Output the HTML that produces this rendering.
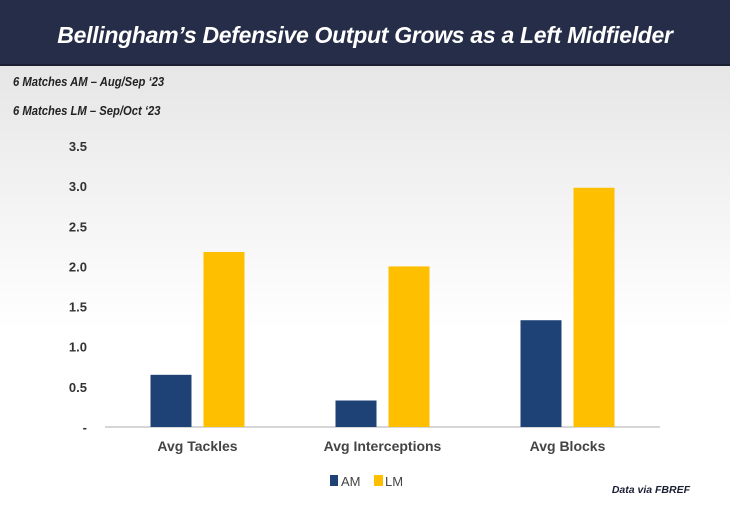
<!DOCTYPE html>
<html><head><meta charset="utf-8"><style>
body{margin:0;width:730px;height:517px;overflow:hidden;font-family:"Liberation Sans",sans-serif;}
#wrap{position:relative;width:730px;height:517px;background:linear-gradient(#e6e6e6 64px,#f3f3f3 200px,#fff 330px,#fff);}
#hdr{position:absolute;left:0;top:0;width:730px;height:64px;background:#262d48;border-bottom:2px solid #1a1f33;color:#fff;font-weight:bold;font-style:italic;font-size:23px;text-align:center;line-height:70px;letter-spacing:-0.3px}
.sub{position:absolute;left:13px;font-size:12.5px;font-weight:bold;font-style:italic;color:#222;transform:scaleX(0.9);transform-origin:left}
</style></head><body>
<div id="wrap">
<div id="hdr">Bellingham’s Defensive Output Grows as a Left Midfielder</div>
<div class="sub" style="top:75px">6 Matches AM – Aug/Sep ‘23</div>
<div class="sub" style="top:104px">6 Matches LM – Sep/Oct ‘23</div>
<svg id="svg" width="730" height="517" style="position:absolute;left:0;top:0"></svg>
</div>
<script>
const categories=["Avg Tackles","Avg Interceptions","Avg Blocks"];
const amValues=[0.65,0.33,1.33];
const lmValues=[2.18,2.0,2.98];
const tickValues=[0,0.5,1.0,1.5,2.0,2.5,3.0,3.5];
const tickLabels=["-","0.5","1.0","1.5","2.0","2.5","3.0","3.5"];
const NS="http://www.w3.org/2000/svg",svg=document.getElementById('svg');
const y0=427,y1=146,x0=105,x1=660;
const y=v=>y0-(v/3.5)*(y0-y1);
const band=(x1-x0)/categories.length;
const cx=i=>x0+band*(i+0.5);
function mk(t,a,txt){const e=document.createElementNS(NS,t);for(const k in a)e.setAttribute(k,a[k]);if(txt!=null)e.textContent=txt;svg.appendChild(e);return e;}
tickValues.forEach((v,i)=>{const e=mk('text',{x:87,y:y(v)+5,'text-anchor':'end','font-size':13,'font-weight':'bold',fill:'#333'},tickLabels[i]);

});
const bl=mk('line',{x1:x0,x2:x1,y1:y0,y2:y0,stroke:'#c8c8c8','stroke-width':1.5});


categories.forEach((c,i)=>{
const a=mk('rect',{x:cx(i)-47,y:y(amValues[i]),width:41,height:y0-y(amValues[i]),fill:'#1f4276'});


const l=mk('rect',{x:cx(i)+6,y:y(lmValues[i]),width:41,height:y0-y(lmValues[i]),fill:'#fdbf00'});


const t=mk('text',{x:cx(i),y:451,'text-anchor':'middle','font-size':14,'font-weight':'bold',fill:'#444'},c);


});
const g1=mk('rect',{x:330,y:475,width:8,height:11,fill:'#1f4276'});


const t1=mk('text',{x:341,y:486,'font-size':13,fill:'#444'},'AM');


const g2=mk('rect',{x:374,y:475,width:9,height:11,fill:'#fdbf00'});


const t2=mk('text',{x:385,y:486,'font-size':13,fill:'#444'},'LM');


const src=mk('text',{x:690,y:493,'text-anchor':'end','font-size':10.5,'font-weight':'bold','font-style':'italic',fill:'#1a1f33'},'Data via FBREF');


</script>
</body></html>
